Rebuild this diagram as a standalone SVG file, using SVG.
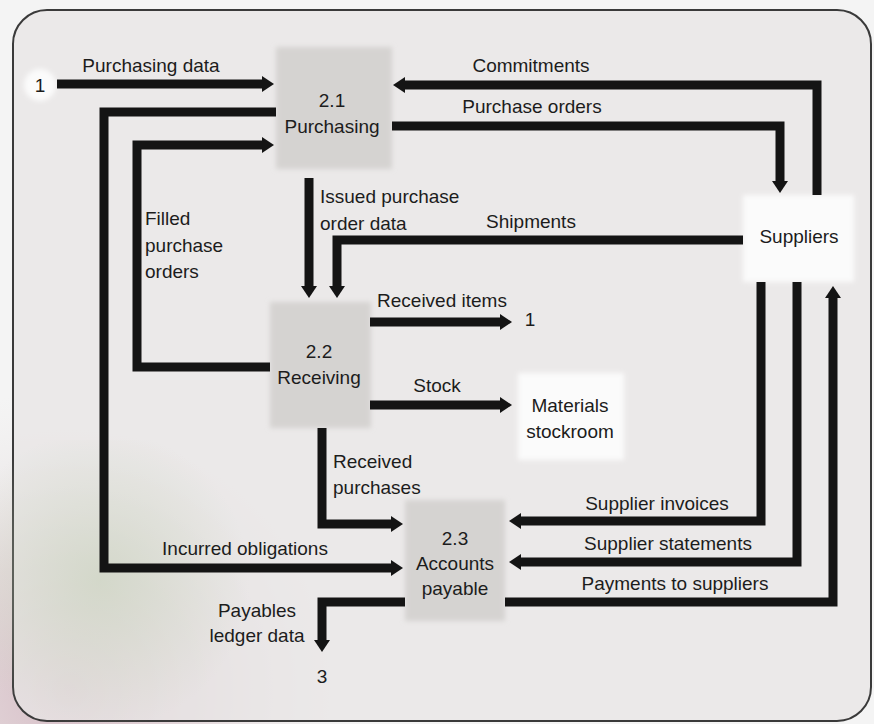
<svg xmlns="http://www.w3.org/2000/svg" width="874" height="724" viewBox="0 0 874 724">
  <defs>
    <style>
      .lbl { font-family: "Liberation Sans", Arial, sans-serif; font-size: 19px; fill: #1c1c1c; }
      .mid { text-anchor: middle; }
      .flow { fill: none; stroke: #141414; stroke-width: 9; stroke-linejoin: miter; marker-end: url(#head); }
      .proc { fill: #d5d3d1; filter: url(#soft); }
      .ext { fill: #fbfbfb; filter: url(#soft); }
    </style>
    <marker id="head" markerUnits="userSpaceOnUse" markerWidth="16" markerHeight="20" viewBox="0 -10 16 20" refX="1" refY="0" orient="auto">
      <path d="M0,-8 L12,0 L0,8 Z" fill="#141414"/>
    </marker>
    <filter id="soft" x="-10%" y="-10%" width="120%" height="120%">
      <feGaussianBlur stdDeviation="2.5"/>
    </filter>
    <radialGradient id="stain" cx="70" cy="690" r="300" gradientUnits="userSpaceOnUse">
      <stop offset="0" stop-color="#d4b9c3" stop-opacity="0.95"/>
      <stop offset="0.45" stop-color="#dac8cc" stop-opacity="0.6"/>
      <stop offset="1" stop-color="#e8e6e5" stop-opacity="0"/>
    </radialGradient>
    <radialGradient id="stain2" cx="100" cy="580" r="150" gradientUnits="userSpaceOnUse">
      <stop offset="0" stop-color="#c6d1b9" stop-opacity="0.6"/>
      <stop offset="1" stop-color="#c6d1b9" stop-opacity="0"/>
    </radialGradient>
  </defs>

  <!-- page and panel -->
  <rect x="0" y="0" width="874" height="724" fill="#f4f4f4"/>
  <rect x="0" y="380" width="380" height="344" fill="url(#stain)"/>
  <rect x="13" y="10" width="858" height="711" rx="34" fill="#e8e6e5" fill-opacity="0.75" stroke="#3a3a3a" stroke-width="2"/>
  <rect x="0" y="440" width="280" height="284" fill="url(#stain2)"/>

  <!-- nodes -->
  <g id="node-purchasing">
    <rect class="proc" x="276" y="47" width="116" height="122"/>
    <text class="lbl mid" x="332" y="107">2.1</text>
    <text class="lbl mid" x="332" y="133">Purchasing</text>
  </g>
  <g id="node-receiving">
    <rect class="proc" x="270" y="302" width="101" height="126"/>
    <text class="lbl mid" x="319" y="358">2.2</text>
    <text class="lbl mid" x="319" y="384">Receiving</text>
  </g>
  <g id="node-accounts-payable">
    <rect class="proc" x="405" y="500" width="100" height="121"/>
    <text class="lbl mid" x="455" y="545">2.3</text>
    <text class="lbl mid" x="455" y="570">Accounts</text>
    <text class="lbl mid" x="455" y="595">payable</text>
  </g>
  <g id="node-suppliers">
    <rect class="ext" x="743" y="195" width="111" height="87"/>
    <text class="lbl mid" x="799" y="243">Suppliers</text>
  </g>
  <g id="node-stockroom">
    <rect class="ext" x="518" y="373" width="106" height="87"/>
    <text class="lbl mid" x="570" y="412">Materials</text>
    <text class="lbl mid" x="570" y="438">stockroom</text>
  </g>
  <g id="ref-in-1">
    <circle cx="40" cy="85" r="16" fill="#fbfbfb" filter="url(#soft)"/>
    <text class="lbl mid" x="40" y="92">1</text>
  </g>
  <g id="ref-out-1">
    <text class="lbl mid" x="530" y="326">1</text>
  </g>
  <g id="ref-out-3">
    <text class="lbl mid" x="322" y="683">3</text>
  </g>

  <!-- connectors -->
  <g id="connectors">
    <path class="flow" d="M57,84 H263"/>
    <path class="flow" d="M817,195 V85 H404"/>
    <path class="flow" d="M392,126 H780 V182"/>
    <path class="flow" d="M276,112 H104 V568 H392"/>
    <path class="flow" d="M270,367 H137 V145 H263"/>
    <path class="flow" d="M309,178 V287"/>
    <path class="flow" d="M743,240 H337 V287"/>
    <path class="flow" d="M370,322 H501"/>
    <path class="flow" d="M370,405 H501"/>
    <path class="flow" d="M322,428 V524 H392"/>
    <path class="flow" d="M761,282 V521 H520"/>
    <path class="flow" d="M797,282 V562 H520"/>
    <path class="flow" d="M505,602 H833 V297"/>
    <path class="flow" d="M405,602 H322 V641"/>

    <text class="lbl mid" x="151" y="72">Purchasing data</text>
    <text class="lbl mid" x="531" y="72">Commitments</text>
    <text class="lbl mid" x="532" y="113">Purchase orders</text>
    <text class="lbl" x="320" y="203">Issued purchase</text>
    <text class="lbl" x="320" y="230">order data</text>
    <text class="lbl mid" x="531" y="228">Shipments</text>
    <text class="lbl" x="145" y="225">Filled</text>
    <text class="lbl" x="145" y="252">purchase</text>
    <text class="lbl" x="145" y="278">orders</text>
    <text class="lbl mid" x="442" y="307">Received items</text>
    <text class="lbl mid" x="437" y="392">Stock</text>
    <text class="lbl" x="333" y="468">Received</text>
    <text class="lbl" x="333" y="494">purchases</text>
    <text class="lbl mid" x="245" y="555">Incurred obligations</text>
    <text class="lbl mid" x="657" y="510">Supplier invoices</text>
    <text class="lbl mid" x="668" y="550">Supplier statements</text>
    <text class="lbl mid" x="675" y="590">Payments to suppliers</text>
    <text class="lbl mid" x="257" y="617">Payables</text>
    <text class="lbl mid" x="257" y="642">ledger data</text>
  </g>
</svg>
